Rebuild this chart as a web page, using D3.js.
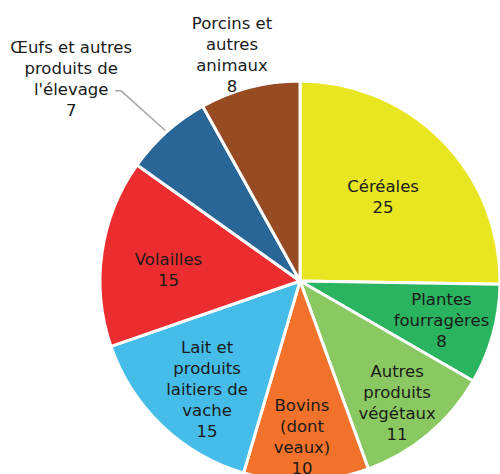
<!DOCTYPE html>
<html>
<head>
<meta charset="utf-8">
<script src="https://cdn.jsdelivr.net/npm/d3@7"></script>
<style>
  html, body { margin: 0; padding: 0; background: #fff; }
  svg { display: block; }
  text { font-family: "DejaVu Sans", sans-serif; font-size: 16.5px; fill: #1a1a1a; }
</style>
</head>
<body>
<svg id="chart" width="500" height="474"></svg>
<script>
// ---- data ----
const categories = [
  "Céréales",
  "Plantes fourragères",
  "Autres produits végétaux",
  "Bovins (dont veaux)",
  "Lait et produits laitiers de vache",
  "Volailles",
  "Œufs et autres produits de l'élevage",
  "Porcins et autres animaux"
];
const values = [25, 8, 11, 10, 15, 15, 7, 8];
const labelLines = [
  ["Céréales"],
  ["Plantes", "fourragères"],
  ["Autres", "produits", "végétaux"],
  ["Bovins", "(dont", "veaux)"],
  ["Lait et", "produits", "laitiers de", "vache"],
  ["Volailles"],
  ["Œufs et autres", "produits de", "l'élevage"],
  ["Porcins et", "autres", "animaux"]
];
const colors = ["#E8E521", "#2BB460", "#8AC861", "#F2722B", "#46BDE9", "#EC2D30", "#286697", "#974B22"];

// ---- layout (not data) ----
const cx = 300, cy = 281, radius = 200;
const labelRadius = [118, 147, 156, 156, 143, 132, 305, 236];
const labelAngleShift = [-0.7, 0.3, 1.5, 1.1, -3.1, -3.2, -6.8, -2.2]; // degrees
const lineHeight = 21;

const svg = d3.select("#chart");
const g = svg.append("g").attr("transform", `translate(${cx},${cy})`);

const pie = d3.pie().sort(null).value(d => d)
  .startAngle(0).endAngle(2 * Math.PI);
const arcs = pie(values);
const arc = d3.arc().innerRadius(0).outerRadius(radius);

g.selectAll("path.slice")
  .data(arcs)
  .join("path")
  .attr("class", "slice")
  .attr("d", arc)
  .attr("fill", (d, i) => colors[i])
  .attr("stroke", "#fff")
  .attr("stroke-width", 3)
  .attr("stroke-linejoin", "round");

function polar(r, a) { return [r * Math.sin(a), -r * Math.cos(a)]; }

// leader line for the Œufs label
const iOeufs = 6;
{
  const mid = (arcs[iOeufs].startAngle + arcs[iOeufs].endAngle) / 2;
  const p0 = polar(radius + 2, mid);
  const a = mid + labelAngleShift[iOeufs] * Math.PI / 180;
  const lp = polar(labelRadius[iOeufs], a);
  const n = labelLines[iOeufs].length + 1;
  const yLine = lp[1] - (n - 1) * lineHeight / 2 + 2 * lineHeight + 1;
  const xEnd = lp[0] + 44;
  g.append("polyline")
    .attr("points", [[p0[0], p0[1]], [xEnd + 6, yLine], [xEnd, yLine]].map(p => p.join(",")).join(" "))
    .attr("fill", "none")
    .attr("stroke", "#A6A6A6")
    .attr("stroke-width", 1.5);
}

arcs.forEach((d, i) => {
  const mid = (d.startAngle + d.endAngle) / 2 + labelAngleShift[i] * Math.PI / 180;
  const [x, y] = polar(labelRadius[i], mid);
  const lines = labelLines[i].concat([String(values[i])]);
  const n = lines.length;
  const first = y - (n - 1) * lineHeight / 2 + 5.5;
  const t = g.append("text").attr("text-anchor", "middle");
  lines.forEach((ln, k) => {
    t.append("tspan").attr("x", x).attr("y", first + k * lineHeight).text(ln);
  });
});
</script>
</body>
</html>
